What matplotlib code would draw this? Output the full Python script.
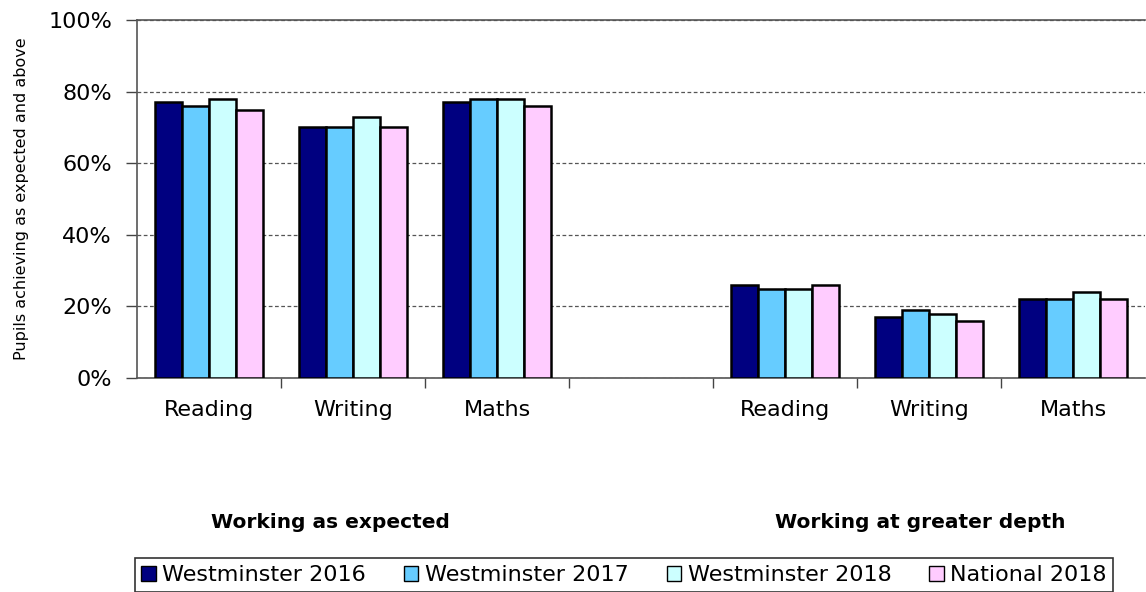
import matplotlib
matplotlib.use("Agg")
import matplotlib.pyplot as plt
import numpy as np
from matplotlib.ticker import FuncFormatter, FixedLocator

# data
subjects = ['Reading', 'Writing', 'Maths', '', 'Reading', 'Writing', 'Maths']
series_names = ['Westminster 2016', 'Westminster 2017', 'Westminster 2018', 'National 2018']
west_2016 = [77, 70, 77, np.nan, 26, 17, 22]
west_2017 = [76, 70, 78, np.nan, 25, 19, 22]
west_2018 = [78, 73, 78, np.nan, 25, 18, 24]
national_2018 = [75, 70, 76, np.nan, 26, 16, 22]
colors = ['#000080', '#66CCFF', '#CCFFFF', '#FFCCFF']
group_titles = ['Working as expected', 'Working at greater depth']

series = [west_2016, west_2017, west_2018, national_2018]

fig = plt.figure(figsize=(11.46, 5.92), dpi=100)
ax = fig.add_axes([137 / 1146, 1 - 378 / 592, 1 - 137 / 1146 - 0.0005, (378 - 20) / 592])

x = np.arange(len(subjects))
w = 0.1875
for i, (vals, c, name) in enumerate(zip(series, colors, series_names)):
    ax.bar(x + (i - 1.5) * w, vals, w, color=c, edgecolor='black', linewidth=1.8,
           label=name, zorder=3)

ax.set_xlim(-0.5, len(subjects) - 0.5)
ax.set_ylim(0, 100)
ax.set_yticks([0, 20, 40, 60, 80, 100])
ax.yaxis.set_major_formatter(FuncFormatter(lambda v, p: f'{v:.0f}%'))
ax.yaxis.grid(True, linestyle=(0, (3, 2)), color='#555555', linewidth=0.9, zorder=0)

ax.set_xticks(x)
ax.set_xticklabels(subjects)
ax.tick_params(axis='x', which='major', length=0, pad=16, labelsize=16)
ax.xaxis.set_minor_locator(FixedLocator(x[:-1] + 0.5))
ax.tick_params(axis='x', which='minor', length=7, width=1, color='#444444')
ax.tick_params(axis='y', length=8, width=1, color='#444444', labelsize=16, pad=10)

for s in ['left', 'bottom', 'top']:
    ax.spines[s].set_color('#555555')
    ax.spines[s].set_linewidth(1.2)
ax.spines['right'].set_visible(False)

ax.set_ylabel('Pupils achieving as expected and above', fontsize=11.5, labelpad=14)

fig.text(330 / 1146, 1 - 522 / 592, group_titles[0], ha='center', va='center',
         fontsize=14.5, fontweight='bold')
fig.text(920 / 1146, 1 - 522 / 592, group_titles[1], ha='center', va='center',
         fontsize=14.5, fontweight='bold')

leg = fig.legend(loc='center', bbox_to_anchor=(624 / 1146, 1 - 575 / 592), ncol=4,
                 fontsize=16, frameon=True, fancybox=False, handlelength=0.65,
                 handleheight=0.65, handletextpad=0.3, columnspacing=1.7,
                 borderpad=0.3)
leg.get_frame().set_edgecolor('black')
leg.get_frame().set_linewidth(1.2)
for p in leg.get_patches():
    p.set_linewidth(1.0)

fig.savefig('out.png', dpi=100)
